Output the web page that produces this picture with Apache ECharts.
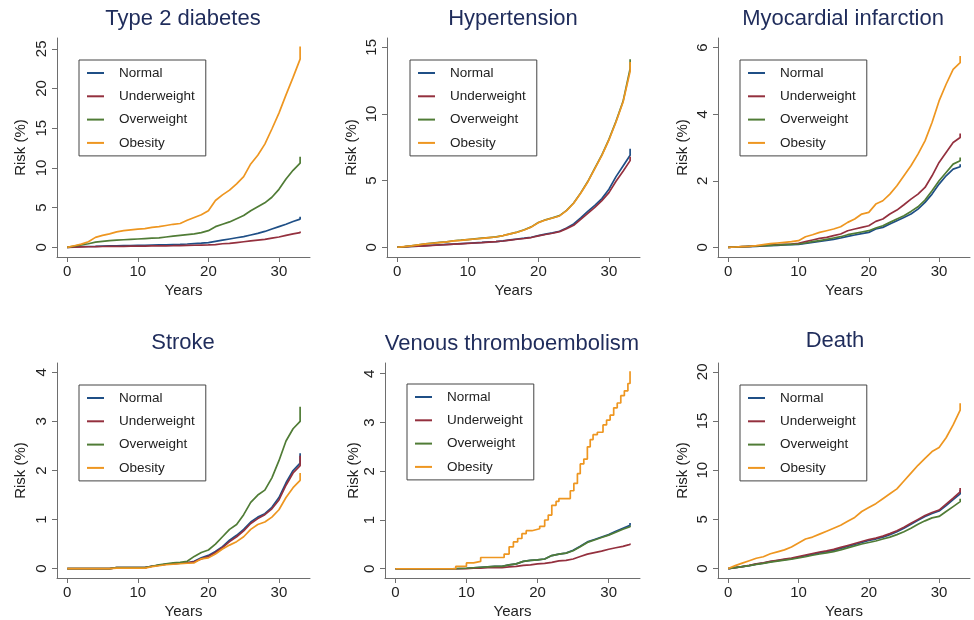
<!DOCTYPE html>
<html>
<head>
<meta charset="utf-8">
<script src="https://cdn.jsdelivr.net/npm/echarts@6/dist/echarts.min.js"></script>
<style>
html,body{margin:0;padding:0;background:#fff;}
#chart{width:974px;height:620px;}
</style>
</head>
<body>
<div id="chart"></div>
<script>
// ---------------- DATA ----------------
var groups = ['Normal', 'Underweight', 'Overweight', 'Obesity'];
var panelTitles = ['Type 2 diabetes', 'Hypertension', 'Myocardial infarction', 'Stroke', 'Venous thromboembolism', 'Death'];
var xTicks = [0, 10, 20, 30];
var yTicks = [[0,5,10,15,20,25],[0,5,10,15],[0,2,4,6],[0,1,2,3,4],[0,1,2,3,4],[0,5,10,15,20]];
// follow-up years (last entry repeated = final jump at end of follow-up)
var years = [0,1,2,3,4,5,6,7,8,9,10,11,12,13,14,15,16,17,18,19,20,21,22,23,24,25,26,27,28,29,30,31,32,33,33];

// Type 2 diabetes
var t2dNormal = [0,0.05,0.08,0.1,0.12,0.15,0.17,0.18,0.2,0.22,0.24,0.26,0.28,0.3,0.32,0.35,0.38,0.42,0.47,0.52,0.6,0.75,0.9,1.05,1.2,1.35,1.55,1.75,2.0,2.3,2.6,2.9,3.25,3.55,3.85];
var t2dUnder = [0,0.03,0.05,0.07,0.08,0.1,0.11,0.12,0.13,0.14,0.15,0.16,0.17,0.18,0.19,0.2,0.22,0.24,0.26,0.28,0.3,0.35,0.45,0.5,0.6,0.7,0.8,0.9,1.0,1.15,1.3,1.5,1.7,1.85,2.0];
var t2dOver = [0,0.15,0.3,0.45,0.65,0.75,0.85,0.9,0.95,1.0,1.05,1.1,1.15,1.2,1.3,1.4,1.5,1.6,1.7,1.85,2.1,2.6,2.9,3.2,3.6,4.0,4.6,5.1,5.6,6.3,7.3,8.6,9.7,10.6,11.4];
var t2dObese = [0,0.2,0.4,0.7,1.25,1.5,1.7,1.95,2.1,2.2,2.3,2.35,2.5,2.6,2.75,2.9,3.0,3.4,3.75,4.1,4.6,5.9,6.6,7.2,8.0,8.9,10.5,11.6,13.0,14.9,16.9,19.2,21.4,23.7,25.3];

// Hypertension
var htNormal = [0,0.03,0.06,0.09,0.12,0.15,0.18,0.21,0.24,0.27,0.3,0.33,0.36,0.4,0.43,0.48,0.55,0.62,0.68,0.75,0.88,0.98,1.08,1.2,1.45,1.75,2.2,2.7,3.15,3.65,4.35,5.3,6.1,6.9,7.4];
var htUnder = [0,0.03,0.06,0.08,0.11,0.14,0.17,0.2,0.23,0.26,0.29,0.32,0.35,0.39,0.42,0.47,0.53,0.6,0.66,0.73,0.86,0.96,1.05,1.17,1.4,1.65,2.1,2.55,3.0,3.5,4.1,4.95,5.7,6.5,6.8];
var htOver = [0,0.05,0.11,0.19,0.26,0.31,0.36,0.41,0.49,0.53,0.58,0.63,0.68,0.73,0.78,0.88,1.0,1.14,1.31,1.53,1.86,2.06,2.21,2.37,2.77,3.32,4.08,4.93,5.93,6.93,8.1,9.45,10.95,13.4,14.1];
var htObese = [0,0.05,0.1,0.18,0.25,0.3,0.35,0.4,0.48,0.52,0.57,0.62,0.67,0.72,0.77,0.87,1.0,1.13,1.3,1.52,1.85,2.05,2.2,2.35,2.75,3.3,4.05,4.9,5.9,6.9,8.05,9.4,10.9,13.2,13.9];

// Myocardial infarction
var miNormal = [0,0.01,0.01,0.02,0.03,0.04,0.05,0.06,0.07,0.08,0.09,0.12,0.15,0.18,0.21,0.24,0.28,0.33,0.37,0.41,0.45,0.55,0.6,0.7,0.8,0.9,1.0,1.15,1.35,1.6,1.9,2.15,2.35,2.42,2.5];
var miUnder = [0,0.01,0.02,0.03,0.04,0.05,0.07,0.08,0.09,0.1,0.12,0.17,0.22,0.27,0.3,0.35,0.4,0.5,0.55,0.6,0.65,0.78,0.85,1.0,1.12,1.28,1.45,1.6,1.8,2.15,2.55,2.85,3.15,3.3,3.42];
var miOver = [0,0.01,0.02,0.03,0.04,0.05,0.06,0.07,0.08,0.09,0.1,0.13,0.17,0.2,0.24,0.28,0.32,0.38,0.42,0.46,0.5,0.58,0.65,0.75,0.85,0.95,1.08,1.22,1.42,1.7,2.0,2.25,2.5,2.6,2.7];
var miObese = [0,0.01,0.02,0.03,0.05,0.08,0.11,0.13,0.15,0.17,0.2,0.32,0.38,0.45,0.5,0.55,0.62,0.75,0.85,1.0,1.05,1.3,1.4,1.6,1.85,2.15,2.45,2.8,3.2,3.75,4.4,4.9,5.35,5.55,5.75];

// Stroke
var stNormal = [0,0,0,0,0,0,0,0.02,0.02,0.02,0.02,0.02,0.05,0.07,0.09,0.1,0.11,0.12,0.15,0.22,0.27,0.35,0.45,0.58,0.68,0.8,0.95,1.05,1.12,1.25,1.45,1.75,2.0,2.15,2.35];
var stUnder = [0,0,0,0,0,0,0,0.02,0.02,0.02,0.02,0.02,0.05,0.07,0.09,0.1,0.11,0.12,0.14,0.2,0.25,0.33,0.43,0.55,0.65,0.77,0.92,1.02,1.1,1.22,1.4,1.7,1.95,2.1,2.3];
var stOver = [0,0,0,0,0,0,0,0.02,0.02,0.02,0.02,0.02,0.05,0.08,0.1,0.12,0.13,0.15,0.25,0.33,0.38,0.5,0.65,0.8,0.9,1.1,1.35,1.5,1.6,1.85,2.2,2.6,2.85,3.0,3.3];
var stObese = [0,0,0,0,0,0,0,0.01,0.01,0.01,0.01,0.01,0.04,0.06,0.08,0.09,0.1,0.11,0.12,0.2,0.22,0.3,0.4,0.48,0.55,0.65,0.8,0.9,0.95,1.05,1.2,1.45,1.65,1.8,1.95];

// Venous thromboembolism
var vteNormal = [0,0,0,0,0,0,0,0,0,0.005,0.01,0.02,0.03,0.04,0.05,0.05,0.08,0.1,0.15,0.17,0.18,0.2,0.27,0.3,0.32,0.38,0.46,0.55,0.6,0.65,0.7,0.77,0.83,0.89,0.94];
var vteUnder = [0,0,0,0,0,0,0,0,0,0,0,0.01,0.01,0.02,0.02,0.02,0.04,0.05,0.07,0.08,0.1,0.11,0.13,0.16,0.17,0.2,0.25,0.3,0.33,0.36,0.4,0.43,0.46,0.5,0.52];
var vteOver = [0,0,0,0,0,0,0,0,0,0.005,0.01,0.02,0.03,0.04,0.05,0.05,0.08,0.1,0.15,0.17,0.18,0.2,0.27,0.3,0.32,0.37,0.45,0.54,0.59,0.64,0.69,0.75,0.81,0.86,0.88];
var vteObeseYears = [0,8.5,10,11,12,15.3,16,16.6,17.2,17.8,18.4,19.2,20.3,21,21.5,22,22.6,23,24.6,25.1,25.6,26,26.5,27,27.4,27.8,28.4,29.2,29.7,30.2,30.7,31.2,31.7,32.2,32.7,33,33];
var vteObese = [0,0.05,0.12,0.15,0.23,0.3,0.45,0.55,0.62,0.72,0.78,0.82,0.87,1.0,1.1,1.3,1.38,1.44,1.6,1.75,1.95,2.15,2.25,2.5,2.65,2.75,2.8,2.95,3.05,3.15,3.3,3.4,3.55,3.65,3.8,3.9,4.05];

// Death
var dNormal = [0,0.1,0.2,0.3,0.45,0.55,0.7,0.8,0.9,1.0,1.15,1.3,1.45,1.6,1.72,1.85,2.05,2.25,2.45,2.65,2.85,3.0,3.2,3.45,3.75,4.1,4.5,4.9,5.3,5.6,5.85,6.4,7.0,7.6,8.0];
var dUnder = [0,0.1,0.2,0.32,0.47,0.58,0.73,0.84,0.95,1.06,1.22,1.38,1.53,1.68,1.8,1.95,2.15,2.35,2.55,2.75,2.95,3.1,3.3,3.55,3.85,4.2,4.6,5.0,5.4,5.7,5.95,6.55,7.15,7.8,8.2];
var dOver = [0,0.1,0.2,0.3,0.42,0.52,0.65,0.75,0.85,0.95,1.07,1.2,1.35,1.48,1.6,1.72,1.9,2.1,2.3,2.5,2.65,2.8,3.0,3.2,3.45,3.75,4.1,4.5,4.85,5.15,5.3,5.8,6.3,6.8,7.1];
var dObese = [0,0.3,0.55,0.8,1.05,1.2,1.5,1.7,1.9,2.2,2.6,3.0,3.2,3.5,3.8,4.1,4.4,4.8,5.2,5.8,6.2,6.6,7.1,7.6,8.1,8.9,9.7,10.5,11.2,11.9,12.3,13.3,14.6,16.1,16.8];

var panelValues = [
  [t2dNormal, t2dUnder, t2dOver, t2dObese],
  [htNormal, htUnder, htOver, htObese],
  [miNormal, miUnder, miOver, miObese],
  [stNormal, stUnder, stOver, stObese],
  [vteNormal, vteUnder, vteOver, vteObese],
  [dNormal, dUnder, dOver, dObese]
];

// ---------------- LAYOUT / STYLE ----------------
var colors = ['#1f4f86', '#94303e', '#507c36', '#ee9620'];
var FONT = 'Liberation Sans, Arial, Helvetica, sans-serif';
var panels = [
  {left:57, top:38, width:253, height:219, ymin:-1.22, ymax:26.36, tx:183, ty:8, lx:79, ly:60, ng:29},
  {left:387, top:38, width:253, height:219, ymin:-0.73, ymax:15.7, tx:513, ty:8, lx:410, ly:60, ng:28},
  {left:718, top:38, width:252, height:219, ymin:-0.29, ymax:6.29, tx:843, ty:8, lx:740, ly:60, ng:28},
  {left:57, top:363, width:253, height:219, ymin:-0.19, ymax:4.19, tx:183, ty:332, lx:79, ly:385, ng:29},
  {left:385, top:363, width:255, height:219, ymin:-0.19, ymax:4.22, tx:512, ty:333, lx:407, ly:384, ng:24},
  {left:718, top:363, width:252, height:219, ymin:-0.96, ymax:20.9, tx:835, ty:330, lx:740, ly:385, ng:28}
];

var axisColor = '#6e6e6e';
var grids = [], xAxes = [], yAxes = [], titles = [], legends = [], series = [];

panels.forEach(function (p, i) {
  grids.push({left:p.left, top:p.top, width:p.width, height:p.height, containLabel:false});
  titles.push({
    text: panelTitles[i], left: p.tx, top: p.ty, textAlign: 'center', padding: 0,
    textStyle: {fontFamily: FONT, fontSize: 22, fontWeight: 'normal', color: '#1f2c5b'}
  });
  xAxes.push({
    type: 'value', gridIndex: i, min: -1.45, max: 34.4,
    name: 'Years', nameLocation: 'middle', nameGap: 26,
    nameTextStyle: {fontFamily: FONT, fontSize: 15, color: '#222'},
    axisLine: {show: true, onZero: false, lineStyle: {color: axisColor, width: 1}},
    axisTick: {show: true, length: 5, customValues: xTicks, lineStyle: {color: axisColor}},
    axisLabel: {customValues: xTicks, fontFamily: FONT, fontSize: 15, color: '#222', margin: 7},
    splitLine: {show: false}
  });
  yAxes.push({
    type: 'value', gridIndex: i, min: p.ymin, max: p.ymax,
    name: 'Risk (%)', nameLocation: 'middle', nameGap: p.ng,
    nameTextStyle: {fontFamily: FONT, fontSize: 15, color: '#222'},
    axisLine: {show: true, onZero: false, lineStyle: {color: axisColor, width: 1}},
    axisTick: {show: true, length: 5, customValues: yTicks[i], lineStyle: {color: axisColor}},
    axisLabel: {customValues: yTicks[i], rotate: 90, fontFamily: FONT, fontSize: 15, color: '#222', margin: 8},
    splitLine: {show: false}
  });
  legends.push({
    data: groups, orient: 'vertical', left: p.lx, top: p.ly,
    selectedMode: false,
    borderColor: '#444', borderWidth: 1, borderRadius: 0,
    padding: [6, 11, 6, 8], itemGap: 9.3,
    itemWidth: 17, itemHeight: 14,
    icon: 'path://M0,0h17v2h-17z',
    textStyle: {fontFamily: FONT, fontSize: 13.5, color: '#222', padding: [0, 0, 0, 10]}
  });
  groups.forEach(function (g, k) {
    var xs = years, vals = panelValues[i][k], step = false;
    if (i === 4 && k === 3) { xs = vteObeseYears; step = 'end'; }
    series.push({
      type: 'line', name: g, xAxisIndex: i, yAxisIndex: i,
      data: vals.map(function (v, j) { return [xs[j], v]; }),
      showSymbol: false, symbol: 'none', step: step,
      color: colors[k],
      itemStyle: {color: colors[k]},
      lineStyle: {color: colors[k], width: 1.7},
      silent: true, animation: false
    });
  });
});

var chart = echarts.init(document.getElementById('chart'), null, {renderer: 'canvas'});
chart.setOption({
  backgroundColor: '#ffffff',
  animation: false,
  title: titles,
  legend: legends,
  grid: grids,
  xAxis: xAxes,
  yAxis: yAxes,
  series: series
});
</script>
</body>
</html>
